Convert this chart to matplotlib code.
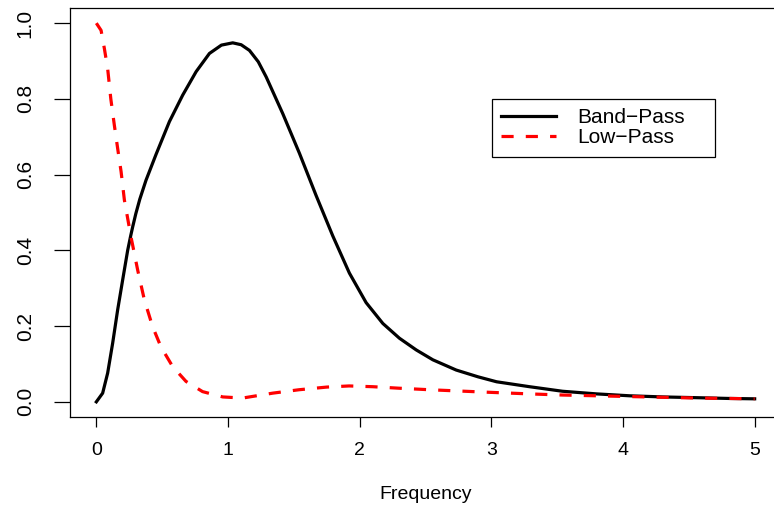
import matplotlib
matplotlib.use("Agg")
import matplotlib.pyplot as plt

plt.rcParams["font.family"] = ["Liberation Sans", "DejaVu Sans"]

# values
band_freq = [0.0, 0.048, 0.086, 0.124, 0.162, 0.20, 0.238, 0.26, 0.276, 0.30,
             0.33, 0.377, 0.453, 0.555, 0.656, 0.758, 0.859, 0.95, 1.036, 1.10,
             1.163, 1.23, 1.29, 1.416, 1.543, 1.669, 1.796, 1.922, 2.049, 2.176,
             2.302, 2.43, 2.556, 2.733, 2.90, 3.04, 3.29, 3.54, 3.80, 4.05, 4.30,
             4.56, 4.80, 5.0]
band_gain = [0.0, 0.023, 0.076, 0.155, 0.243, 0.322, 0.40, 0.437, 0.462, 0.497,
             0.535, 0.585, 0.653, 0.740, 0.810, 0.872, 0.920, 0.942, 0.948, 0.943,
             0.928, 0.898, 0.858, 0.761, 0.656, 0.545, 0.438, 0.340, 0.262, 0.207,
             0.168, 0.137, 0.111, 0.084, 0.066, 0.053, 0.040, 0.028, 0.021, 0.016,
             0.013, 0.011, 0.009, 0.008]

low_freq = [0.0, 0.036, 0.061, 0.086, 0.11, 0.137, 0.162, 0.188, 0.213, 0.263,
            0.314, 0.365, 0.428, 0.491, 0.58, 0.681, 0.807, 0.96, 1.11, 1.34,
            1.54, 1.75, 1.92, 2.10, 2.30, 2.53, 2.73, 3.00, 3.29, 3.54, 3.80,
            4.05, 4.30, 4.56, 4.80, 5.0]
low_gain = [1.0, 0.981, 0.933, 0.88, 0.80, 0.73, 0.669, 0.608, 0.533, 0.436,
            0.348, 0.269, 0.198, 0.145, 0.093, 0.054, 0.027, 0.013, 0.010, 0.023,
            0.032, 0.039, 0.042, 0.040, 0.036, 0.032, 0.029, 0.025, 0.021, 0.018,
            0.016, 0.014, 0.012, 0.010, 0.009, 0.008]

x_ticks = [0, 1, 2, 3, 4, 5]
y_ticks = [0.0, 0.2, 0.4, 0.6, 0.8, 1.0]

W, H = 774, 509
fig = plt.figure(figsize=(W / 100, H / 100), dpi=100)
# plot box in pixels: left 70, right 781 (past the edge), top 8, bottom 417
ax = fig.add_axes([70 / W, (H - 417) / H, 711 / W, 409 / H])

ax.plot(band_freq, band_gain, color="black", lw=2.3, label="Band\u2212Pass",
        solid_joinstyle="round")
ax.plot(low_freq, low_gain, color="red", lw=2.3, dashes=(3.8, 3.8),
        label="Low\u2212Pass", dash_joinstyle="round")

ax.set_xlim(-0.2, 5.2)
ax.set_ylim(-0.04, 1.04)
ax.set_xticks(x_ticks)
ax.set_xticklabels([str(v) for v in x_ticks])
ax.set_yticks(y_ticks)
ax.set_yticklabels([f"{v:.1f}" for v in y_ticks], rotation=90, va="center")
ax.tick_params(axis="x", length=7.2, width=0.9, labelsize=14, pad=11)
ax.tick_params(axis="y", length=11.3, width=0.9, labelsize=15, pad=14)
for s in ax.spines.values():
    s.set_linewidth(0.9)
ax.set_xlabel("Frequency", fontsize=14, labelpad=19)

# legend box spans x 492..715, y 99..157 px in the reference
leg = ax.legend(loc="upper left", mode="expand",
                bbox_to_anchor=(492 / W, 1 - 157 / H, 223 / W, 58 / H),
                bbox_transform=fig.transFigure, fontsize=15, frameon=True,
                fancybox=False, edgecolor="black", framealpha=1,
                handlelength=2.6, handletextpad=1.05, labelspacing=0.05,
                borderpad=0.45, borderaxespad=0)
leg.get_frame().set_linewidth(0.9)

fig.savefig("out.png", dpi=100)
